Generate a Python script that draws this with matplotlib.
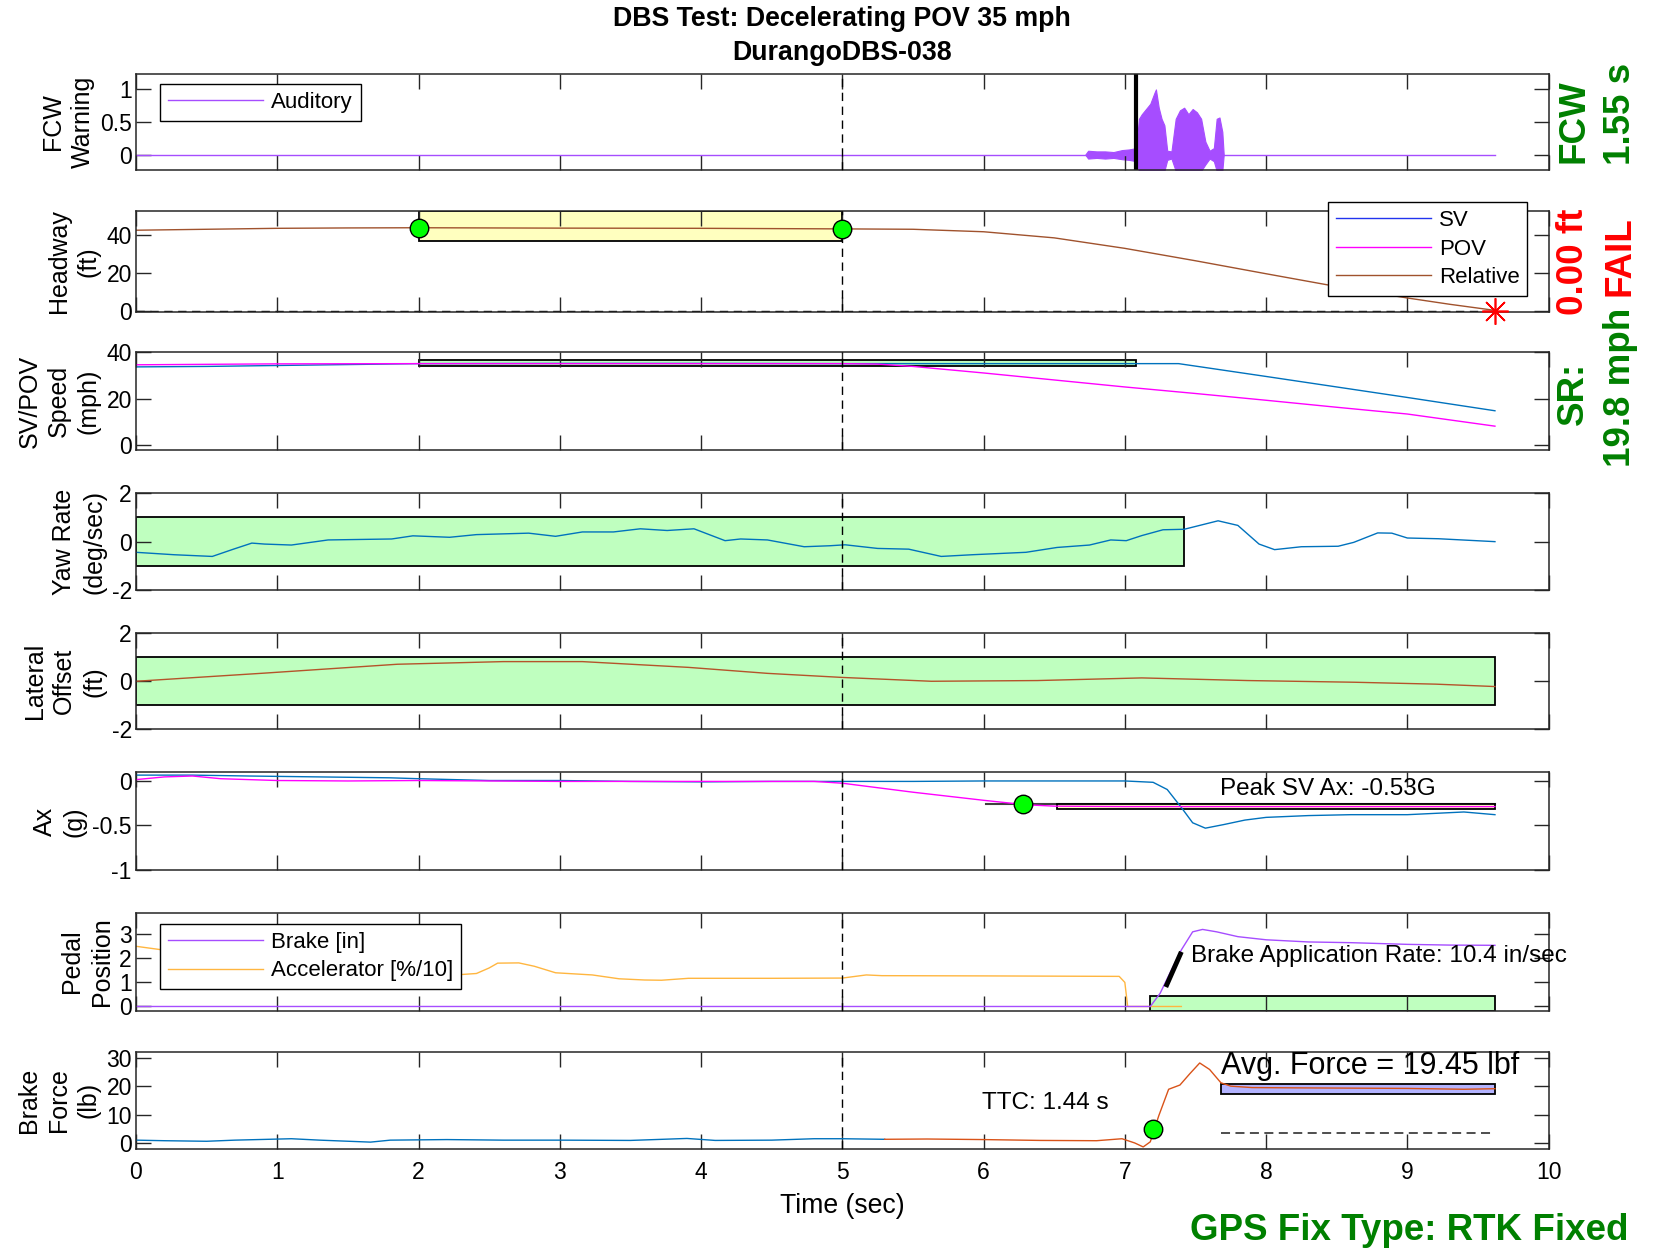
import matplotlib
matplotlib.use("Agg")
import matplotlib.pyplot as plt
from matplotlib.lines import Line2D
from matplotlib.patches import Rectangle

plt.rcParams["font.family"] = ["Liberation Sans", "DejaVu Sans"]
plt.rcParams["axes.unicode_minus"] = False

# ---------------- data ----------------
# FCW warning (auditory signal, drawn as its envelope)
fcw_t = [0.0, 9.62]
fcw_v = [0.0, 0.0]
audio_t = [6.72, 6.74, 6.80, 6.86, 6.92, 6.98, 7.03, 7.08, 7.10, 7.12, 7.15, 7.18, 7.21,
           7.22, 7.24, 7.26, 7.28, 7.30, 7.33, 7.36, 7.39, 7.42, 7.45, 7.48, 7.51, 7.54,
           7.57, 7.60, 7.63, 7.65, 7.67, 7.69, 7.70]
audio_hi = [0.0, 0.06, 0.05, 0.05, 0.04, 0.07, 0.08, 0.10, 0.55, 0.62, 0.70, 0.78, 0.95,
            1.0, 0.72, 0.55, 0.45, 0.06, 0.05, 0.55, 0.68, 0.72, 0.62, 0.70, 0.65, 0.55,
            0.20, 0.06, 0.10, 0.55, 0.57, 0.35, 0.0]
audio_lo = [0.0, -0.06, -0.05, -0.06, -0.05, -0.07, -0.08, -0.10, -0.25, -0.25, -0.25, -0.25, -0.25,
            -0.25, -0.25, -0.25, -0.25, -0.08, -0.06, -0.25, -0.25, -0.25, -0.25, -0.25, -0.25, -0.25,
            -0.15, -0.06, -0.10, -0.25, -0.25, -0.25, 0.0]
fcw_onset = 7.08

# headway (relative range, ft)
hw_t = [0.0, 0.5, 1.0, 1.5, 2.0, 3.0, 4.0, 5.0, 5.5, 6.0, 6.5, 7.0, 7.5, 8.0, 8.5, 9.0, 9.3, 9.62]
hw_v = [42.3, 42.8, 43.3, 43.5, 43.6, 43.4, 43.3, 43.0, 42.8, 41.5, 38.3, 32.8, 26.3, 19.5,
        12.8, 6.8, 3.5, 0.3]
hw_box = [2.0, 5.0, 36.5, 52.5]
hw_marks_t = [2.0, 5.0]
hw_marks_v = [43.5, 42.9]
impact = [9.62, 0.0]

# speed (mph)
sv_spd_t = [0.0, 0.5, 1.0, 1.5, 2.0, 3.0, 4.0, 5.0, 6.0, 7.0, 7.38, 7.55, 8.0, 8.5, 9.0, 9.62]
sv_spd_v = [33.6, 33.8, 34.2, 34.6, 35.0, 35.1, 35.1, 35.0, 35.0, 35.0, 35.0, 33.5, 29.5, 25.0,
            20.5, 14.8]
pov_spd_t = [0.0, 0.5, 1.0, 2.0, 3.0, 4.0, 5.0, 5.25, 5.5, 6.0, 6.5, 7.0, 7.5, 8.0, 8.5, 9.0, 9.62]
pov_spd_v = [34.5, 34.7, 34.9, 35.0, 35.0, 35.0, 35.0, 34.8, 33.8, 31.0, 28.0, 25.0, 22.2,
             19.3, 16.3, 13.4, 8.2]
spd_box = [2.0, 7.08, 34.0, 36.4]

# yaw rate (deg/sec)
yaw_t = [0.0, 0.27, 0.54, 0.69, 0.82, 0.91, 1.10, 1.36, 1.81, 1.96, 2.22, 2.41, 2.78, 2.97,
         3.16, 3.38, 3.57, 3.76, 3.95, 4.17, 4.28, 4.47, 4.73, 4.91, 5.02, 5.25, 5.47, 5.70,
         5.92, 6.30, 6.52, 6.75, 6.90, 7.01, 7.12, 7.27, 7.42, 7.66, 7.80, 7.95, 8.06, 8.25,
         8.51, 8.62, 8.79, 8.89, 9.00, 9.22, 9.62]
yaw_v = [-0.44, -0.54, -0.61, -0.31, -0.06, -0.10, -0.14, 0.07, 0.11, 0.24, 0.18, 0.29, 0.35,
         0.22, 0.40, 0.40, 0.53, 0.46, 0.53, 0.04, 0.11, 0.07, -0.21, -0.17, -0.13, -0.28,
         -0.31, -0.61, -0.54, -0.44, -0.24, -0.14, 0.07, 0.04, 0.25, 0.49, 0.51, 0.86, 0.67,
         -0.10, -0.33, -0.21, -0.19, -0.03, 0.36, 0.35, 0.15, 0.12, 0.0]
yaw_box = [0.0, 7.42, -1.0, 1.0]

# lateral offset (ft)
lat_t = [0.0, 0.91, 1.85, 2.6, 3.16, 3.91, 4.47, 5.0, 5.63, 6.38, 7.12, 7.87, 8.62, 9.2, 9.62]
lat_v = [0.0, 0.34, 0.71, 0.82, 0.82, 0.58, 0.33, 0.16, 0.0, 0.03, 0.14, 0.03, -0.04, -0.12, -0.22]
lat_box = [0.0, 9.62, -1.0, 1.0]

# longitudinal accel (g)
sv_ax_t = [0.0, 0.4, 0.8, 1.3, 1.8, 2.0, 2.5, 3.0, 3.5, 4.0, 4.5, 5.0, 5.5, 6.0, 6.5, 7.0, 7.2,
           7.3, 7.4, 7.48, 7.57, 7.7, 7.85, 8.0, 8.3, 8.6, 9.0, 9.4, 9.62]
sv_ax_v = [0.06, 0.06, 0.05, 0.04, 0.03, 0.02, 0.0, 0.0, -0.01, -0.015, -0.01, -0.01, -0.01,
           -0.005, -0.005, -0.005, -0.02, -0.1, -0.3, -0.47, -0.53, -0.49, -0.44, -0.41, -0.39,
           -0.38, -0.38, -0.35, -0.38]
pov_ax_t = [0.0, 0.2, 0.4, 0.6, 1.0, 1.5, 2.0, 3.0, 4.0, 4.8, 5.0, 5.5, 6.0, 6.3, 6.5, 7.0,
            8.0, 9.0, 9.62]
pov_ax_v = [0.01, 0.04, 0.05, 0.02, 0.0, -0.005, 0.0, -0.01, -0.01, -0.01, -0.03, -0.13, -0.22,
            -0.27, -0.285, -0.29, -0.29, -0.29, -0.29]
ax_line = [6.02, 9.62, -0.265]
ax_box = [6.52, 9.62, -0.32, -0.265]
ax_mark = [6.28, -0.263]
ax_text = "Peak SV Ax: -0.53G"

# pedal position
brake_t = [0.0, 7.18, 7.25, 7.32, 7.4, 7.48, 7.55, 7.65, 7.8, 8.0, 8.3, 8.6, 9.0, 9.3, 9.62]
brake_v = [0.0, 0.0, 0.55, 1.4, 2.35, 3.1, 3.2, 3.1, 2.9, 2.77, 2.68, 2.65, 2.58, 2.55, 2.54]
accel_t = [0.0, 0.15, 0.5, 1.0, 1.5, 2.0, 2.26, 2.41, 2.5, 2.56, 2.71, 2.82, 2.97, 3.23, 3.42,
           3.6, 3.72, 3.91, 4.5, 5.0, 5.17, 5.28, 6.0, 6.96, 7.0, 7.02, 7.4]
accel_v = [2.5, 2.38, 2.1, 1.75, 1.5, 1.36, 1.31, 1.37, 1.6, 1.8, 1.81, 1.67, 1.4, 1.31, 1.15,
           1.1, 1.09, 1.17, 1.17, 1.18, 1.31, 1.28, 1.27, 1.25, 1.0, 0.0, 0.0]
pedal_box = [7.18, 9.62, -0.2, 0.42]
rate_seg_t = [7.29, 7.40]
rate_seg_v = [0.81, 2.27]
rate_text = "Brake Application Rate: 10.4 in/sec"

# brake force (lb)
force_pre_t = [0.0, 0.2, 0.5, 0.7, 1.1, 1.3, 1.66, 1.8, 2.2, 2.6, 3.0, 3.5, 3.9, 4.1, 4.5,
               4.8, 5.0, 5.3]
force_pre_v = [1.0, 0.8, 0.6, 1.0, 1.5, 1.0, 0.3, 1.0, 1.2, 1.0, 1.0, 0.9, 1.6, 0.9, 1.0,
               1.5, 1.5, 1.3]
force_t = [5.3, 5.6, 6.0, 6.4, 6.8, 6.98, 7.07, 7.13, 7.18, 7.24, 7.31, 7.39, 7.46, 7.53,
           7.6, 7.68, 7.75, 7.9, 8.2, 8.6, 9.0, 9.4, 9.62]
force_v = [1.3, 1.4, 1.2, 0.9, 0.8, 1.5, 0.0, -1.4, 0.4, 9.6, 19.0, 20.5, 24.5, 28.3, 26.0,
           21.3, 20.1, 19.6, 19.5, 19.4, 19.3, 19.0, 19.2]
force_box = [7.68, 9.62, 17.2, 20.9]
force_ref = [7.68, 9.62, 3.5]
ttc_mark = [7.2, 5.0]

# ---------------- styling ----------------
blue = "#0072BD"
magenta = "#ff00ff"
brown = "#a0522d"
purple = "#a64dff"
orange = "#ffb640"
red_orange = "#D95319"
lgreen = "#bfffbf"
dgreen = "#008000"

W, H = 1568.0, 1190.0
panel_top = [70, 200, 334, 468, 601, 733, 866, 998]
panel_bot = [161, 296, 427, 560, 692, 826, 959, 1090]
left, right = 129 / W, 1469 / W

fig = plt.figure(figsize=(16.53, 12.54), dpi=100)
axes = []
for t, b in zip(panel_top, panel_bot):
    axes.append(fig.add_axes([left, 1 - b / H, right - left, (b - t) / H]))

tick_fs = 16.5
lab_fs = 18


def style(ax, ylim, yticks, ylabel):
    ax.set_xlim(0, 10)
    ax.set_ylim(*ylim)
    ax.set_xticks(range(11))
    ax.set_yticks(yticks)
    ax.set_yticklabels([f"{v:g}" for v in yticks])
    ax.tick_params(direction="in", top=True, right=True, length=11, width=1,
                   color="#262626", labelsize=tick_fs, pad=3)
    ax.tick_params(axis="x", pad=9)
    for s in ax.spines.values():
        s.set_color("#262626")
        s.set_linewidth(1.1)
    ax.set_ylabel(ylabel, fontsize=lab_fs, labelpad=4, linespacing=1.3)
    ax.axvline(5, color="k", lw=1, ls=(0, (6, 4)), zorder=3)
    if ax is not axes[-1]:
        ax.tick_params(labelbottom=False)


def box(ax, b, fc):
    ax.add_patch(Rectangle((b[0], b[2]), b[1] - b[0], b[3] - b[2], facecolor=fc,
                           edgecolor="k", lw=1.3, zorder=1))


def leg(ax, handles, labels, loc, anchor):
    lg = ax.legend(handles, labels, loc=loc, bbox_to_anchor=anchor, fontsize=16,
                   frameon=True, fancybox=False, framealpha=1, edgecolor="k",
                   handlelength=4.3, handletextpad=0.35, labelspacing=0.34,
                   borderaxespad=0, borderpad=0.35)
    lg.get_frame().set_linewidth(1.0)


mark_kw = dict(marker="o", ms=13.3, mfc="#00ff00", mec="k", mew=1, ls="none", zorder=4)

# 1: FCW warning
ax = axes[0]
ax.plot(fcw_t, fcw_v, color=purple, lw=1)
ax.fill_between(audio_t, audio_lo, audio_hi, color=purple, lw=0.8)
ax.axvline(fcw_onset, color="k", lw=3)
style(ax, (-0.23, 1.24), [0, 0.5, 1], "FCW\nWarning")
leg(ax, [Line2D([], [], color=purple, lw=1)], ["Auditory"], "upper left", (0.017, 0.89))

# 2: headway
ax = axes[1]
box(ax, hw_box, "#ffffbf")
ax.plot(hw_t, hw_v, color=brown, lw=1, zorder=2)
ax.plot([0, impact[0]], [0, 0], color="k", lw=1, ls=(0, (6, 4)), zorder=2)
ax.plot(hw_marks_t, hw_marks_v, **mark_kw)
ax.plot([impact[0]], [impact[1]], marker=(8, 2, 0), ms=19, color="red", mew=1.2,
        ls="none", zorder=4, clip_on=False)
style(ax, (-0.5, 52.5), [0, 20, 40], "Headway\n(ft)")
leg(ax, [Line2D([], [], color="#2233ee", lw=1), Line2D([], [], color=magenta, lw=1),
         Line2D([], [], color=brown, lw=1)], ["SV", "POV", "Relative"],
    "upper right", (0.985, 1.083))

# 3: speed
ax = axes[2]
box(ax, spd_box, lgreen)
ax.plot(sv_spd_t, sv_spd_v, color=blue, lw=1, zorder=2)
ax.plot(pov_spd_t, pov_spd_v, color=magenta, lw=1, zorder=2)
style(ax, (-2, 40), [0, 20, 40], "SV/POV\nSpeed\n(mph)")

# 4: yaw rate
ax = axes[3]
box(ax, yaw_box, lgreen)
ax.plot(yaw_t, yaw_v, color=blue, lw=1, zorder=2)
style(ax, (-2, 2), [-2, 0, 2], "Yaw Rate\n(deg/sec)")

# 5: lateral offset
ax = axes[4]
box(ax, lat_box, lgreen)
ax.plot(lat_t, lat_v, color="#b5532a", lw=1, zorder=2)
style(ax, (-2, 2), [-2, 0, 2], "Lateral\nOffset\n(ft)")

# 6: Ax
ax = axes[5]
ax.plot(ax_line[:2], [ax_line[2]] * 2, color="#404040", lw=1.5, zorder=1)
box(ax, ax_box, "#ffffbf")
ax.plot(sv_ax_t, sv_ax_v, color=blue, lw=1, zorder=2)
ax.plot(pov_ax_t, pov_ax_v, color=magenta, lw=1, zorder=2)
ax.plot([ax_mark[0]], [ax_mark[1]], **mark_kw)
ax.text(8.44, -0.09, ax_text, ha="center", va="center", fontsize=17.5)
style(ax, (-1, 0.09), [-1, -0.5, 0], "Ax\n(g)")

# 7: pedal position
ax = axes[6]
box(ax, pedal_box, lgreen)
ax.plot(accel_t, accel_v, color=orange, lw=1, zorder=2)
ax.plot(brake_t, brake_v, color=purple, lw=1, zorder=2)
ax.plot(rate_seg_t, rate_seg_v, color="k", lw=3.5, solid_capstyle="butt", zorder=3)
ax.text(7.47, 2.09, rate_text, ha="left", va="center", fontsize=17.5, zorder=5)
style(ax, (-0.17, 3.9), [0, 1, 2, 3], "Pedal\nPosition")
leg(ax, [Line2D([], [], color=purple, lw=1), Line2D([], [], color=orange, lw=1)],
    ["Brake [in]", "Accelerator [%/10]"], "upper left", (0.017, 0.882))

# 8: brake force
ax = axes[7]
box(ax, force_box, "#b3b3ff")
ax.plot(force_ref[:2], [force_ref[2]] * 2, color="#404040", lw=1.3, ls=(0, (5, 3)), zorder=2)
ax.plot(force_pre_t, force_pre_v, color=blue, lw=1, zorder=2)
ax.plot(force_t, force_v, color=red_orange, lw=1, zorder=2)
ax.plot([ttc_mark[0]], [ttc_mark[1]], **mark_kw)
ax.text(6.44, 14.3, "TTC: 1.44 s", ha="center", va="center", fontsize=17.5)
ax.text(7.68, 27.1, "Avg. Force = 19.45 lbf", ha="left", va="center", fontsize=22)
style(ax, (-2, 32.3), [0, 10, 20, 30], "Brake\nForce\n(lb)")

# ---------------- figure texts ----------------
xc = (left + right) / 2
fig.text(xc, 1 - 18 / H, "DBS Test: Decelerating POV 35 mph", ha="center", va="center",
         fontsize=19.3, fontweight="bold")
fig.text(xc, 1 - 50 / H, "DurangoDBS-038", ha="center", va="center",
         fontsize=19.3, fontweight="bold")
fig.text(xc, 1 - 1144 / H, "Time (sec)", ha="center", va="center", fontsize=19.2)

side = dict(rotation=90, ha="center", va="center", fontsize=26.5, fontweight="bold")
fig.text(1493 / W, 1 - 115 / H, "FCW", color=dgreen, **side)
fig.text(1537 / W, 1 - 108 / H, "1.55 s", color=dgreen, **side)
fig.text(1493 / W, 1 - 248 / H, "0.00 ft", color="red", **side)
fig.text(1537 / W, 1 - 243 / H, "FAIL", color="red", **side)
fig.text(1493 / W, 1 - 373 / H, "SR:", color=dgreen, **side)
fig.text(1537 / W, 1 - 368 / H, "19.8 mph", color=dgreen, **side)
fig.text(1545 / W, 1 - 1168 / H, "GPS Fix Type: RTK Fixed", color=dgreen, ha="right",
         va="center", fontsize=26.5, fontweight="bold")

fig.savefig("out.png", dpi=100)
